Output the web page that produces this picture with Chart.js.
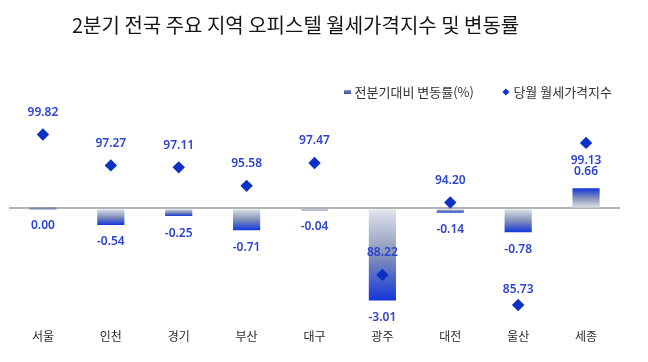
<!DOCTYPE html>
<html>
<head>
<meta charset="utf-8">
<script src="https://cdn.jsdelivr.net/npm/chart.js@4.4.1/dist/chart.umd.min.js"></script>
<style>
  html, body { margin: 0; padding: 0; background: #ffffff; }
  #wrap { position: relative; width: 648px; height: 362px; }
  #title {
    position: absolute; left: 72px; top: 14px; margin: 0;
    font-family: "Noto Sans CJK KR", sans-serif; font-size: 20px; font-weight: 400;
    line-height: 22px; color: #151515; white-space: nowrap;
  }
  canvas { position: absolute; left: 0; top: 0; }
</style>
</head>
<body>
<div id="wrap">
  <canvas id="c" width="648" height="362"></canvas>
  <div id="title">2분기 전국 주요 지역 오피스텔 월세가격지수 및 변동률</div>
</div>
<script>
// ---- data ----
const regions = ['서울', '인천', '경기', '부산', '대구', '광주', '대전', '울산', '세종'];
const changeRates = [0.00, -0.54, -0.25, -0.71, -0.04, -3.01, -0.14, -0.78, 0.66];
const rentIndex = [99.82, 97.27, 97.11, 95.58, 97.47, 88.22, 94.20, 85.73, 99.13];
const barSeriesName = '전분기대비 변동률(%)';
const lineSeriesName = '당월 월세가격지수';

// ---- label placement (vertical shift of index labels, px) ----
const indexLabelShift = [-22, -22, -22, -22, -22, -22, -22, -15, 18];

const labelColor = '#2c43d2';
const diamondColor = '#0c31c4';

// small legend icon for the bar series
const barIcon = document.createElement('canvas');
barIcon.width = 7; barIcon.height = 4;
(function () {
  const g = barIcon.getContext('2d');
  const gr = g.createLinearGradient(0, 0, 0, 4);
  gr.addColorStop(0, '#8e9abb');
  gr.addColorStop(1, '#2a3fb0');
  g.fillStyle = gr; g.fillRect(0, 0, 7, 4);
})();

function barGradient(ctx) {
  const chart = ctx.chart;
  const area = chart.chartArea;
  if (!area || ctx.type !== 'data') return '#6f7fae';
  const ys = chart.scales.y;
  const v = ctx.raw;
  const y0 = ys.getPixelForValue(0);
  let y1 = ys.getPixelForValue(v);
  if (Math.abs(y1 - y0) < 2.5) return '#7685aa';
  const g = chart.ctx.createLinearGradient(0, y0, 0, y1);
  g.addColorStop(0, '#e2e6ee');
  g.addColorStop(0.5, '#8794b9');
  g.addColorStop(1, '#1236da');
  return g;
}

const valueLabels = {
  id: 'valueLabels',
  afterDatasetsDraw(chart) {
    const ctx = chart.ctx;
    const ys = chart.scales.y, y1s = chart.scales.y1;
    const lineMeta = chart.getDatasetMeta(0);
    const barMeta = chart.getDatasetMeta(1);
    ctx.save();
    ctx.font = '600 12px "Noto Sans", sans-serif';
    ctx.fillStyle = labelColor;
    ctx.textAlign = 'center';
    ctx.textBaseline = 'middle';
    barMeta.data.forEach((el, i) => {
      const v = changeRates[i];
      const py = ys.getPixelForValue(v);
      const y = v > 0 ? py - 17 : py + 17;
      ctx.fillText(v.toFixed(2), el.x, y);
    });
    lineMeta.data.forEach((el, i) => {
      const py = y1s.getPixelForValue(rentIndex[i]);
      ctx.fillText(rentIndex[i].toFixed(2), el.x, py + indexLabelShift[i]);
    });
    ctx.restore();
  }
};

new Chart(document.getElementById('c'), {
  data: {
    labels: regions,
    datasets: [
      {
        type: 'line',
        label: lineSeriesName,
        data: rentIndex,
        yAxisID: 'y1',
        showLine: false,
        pointStyle: 'rectRot',
        pointRadius: 6.2,
        pointHoverRadius: 6.2,
        backgroundColor: diamondColor,
        borderColor: diamondColor,
        borderWidth: 0
      },
      {
        type: 'bar',
        label: barSeriesName,
        data: changeRates,
        yAxisID: 'y',
        backgroundColor: barGradient,
        borderWidth: 0,
        barPercentage: 0.4,
        categoryPercentage: 1.0,
        minBarLength: 2
      }
    ]
  },
  options: {
    responsive: false,
    animation: false,
    layout: { padding: { left: 9, right: 5, top: 54.5, bottom: 10 } },
    scales: {
      x: {
        grid: { display: false, drawTicks: false },
        border: { display: false },
        ticks: { padding: 8.5, color: '#2a2a2a', font: { family: '"Noto Sans CJK KR", sans-serif', size: 12 } }
      },
      y: {
        position: 'left',
        min: -3.671, max: 3.274,
        ticks: { display: false, stepSize: 1 },
        border: { display: false },
        grid: {
          drawTicks: false,
          lineWidth: 2,
          color: (c) => (c.tick && c.tick.value === 0) ? '#b4b4b4' : 'rgba(0,0,0,0)'
        }
      },
      y1: {
        position: 'right',
        display: true,
        min: 84.44, max: 101.975,
        ticks: { display: false },
        grid: { display: false, drawTicks: false },
        border: { display: false },
        afterFit(scale) { scale.width = 23; }
      }
    },
    plugins: {
      tooltip: { enabled: false },
      title: { display: false },
      legend: {
        position: 'top',
        align: 'end',
        labels: {
          usePointStyle: true,
          boxWidth: 2,
          boxHeight: 5,
          padding: 31,
          color: '#333333',
          font: { family: '"Noto Sans CJK KR", sans-serif', size: 13 },
          generateLabels(chart) {
            const items = Chart.defaults.plugins.legend.labels.generateLabels(chart);
            items.forEach((it) => {
              if (it.datasetIndex === 1) { it.pointStyle = barIcon; }
              else { it.pointStyle = 'rectRot'; it.fillStyle = diamondColor; it.strokeStyle = diamondColor; it.lineWidth = 0; }
            });
            return items.sort((a, b) => b.datasetIndex - a.datasetIndex);
          }
        }
      }
    }
  },
  plugins: [valueLabels]
});
</script>
</body>
</html>
